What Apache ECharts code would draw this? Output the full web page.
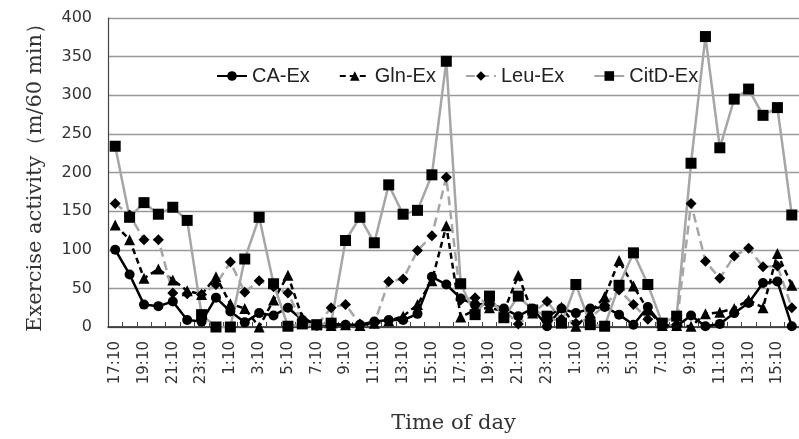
<!DOCTYPE html>
<html><head><meta charset="utf-8">
<script src="https://cdn.jsdelivr.net/npm/echarts@6/dist/echarts.min.js"></script>
<style>html,body{margin:0;padding:0;background:#fff}#c{width:799px;height:439px}</style>
</head><body><div id="c"></div>
<script>
const categories = ['17:10','18:10','19:10','20:10','21:10','22:10','23:10','0:10','1:10','2:10','3:10','4:10',
  '5:10','6:10','7:10','8:10','9:10','10:10','11:10','12:10','13:10','14:10','15:10','16:10',
  '17:10','18:10','19:10','20:10','21:10','22:10','23:10','0:10','1:10','2:10','3:10','4:10',
  '5:10','6:10','7:10','8:10','9:10','10:10','11:10','12:10','13:10','14:10','15:10','16:10'];
const caEx   = [100,68,29,27,33,9,7,38,20,6,18,15,25,9,2,4,3,3,7,9,9,17,65,55,
                37,29,30,24,14,24,1,24,18,24,26,16,3,26,2,1,15,1,4,18,31,57,59,1];
const glnEx  = [132,113,63,75,61,47,42,65,30,24,0,35,67,12,3,2,3,2,5,8,14,29,60,131,
                13,22,25,20,67,18,12,26,1,18,39,86,53,22,2,2,1,17,19,24,35,25,95,54];
const leuEx  = [160,145,113,113,44,43,42,55,84,45,60,52,44,5,2,25,29,4,5,59,62,99,118,194,
                35,38,30,22,4,18,33,10,5,12,28,48,29,10,2,3,160,85,63,92,102,78,79,25];
const citdEx = [234,142,161,146,155,138,16,0,0,88,142,56,1,4,3,5,112,142,109,184,146,151,197,344,
                56,16,40,12,40,22,14,5,55,3,1,54,96,55,5,14,212,376,232,295,308,274,284,145];
const yTicks = {min:0, max:400, step:50};

const chart = echarts.init(document.getElementById('c'), null, {renderer:'canvas'});
const GRAY = '#a6a6a6';
const mk = (name, data, symbol, size, lineColor, dash) => ({
  name, type:'line', data, symbol, symbolSize:size, showSymbol:true, showAllSymbol:true,
  lineStyle:{color:lineColor, width:2.5, type:dash},
  itemStyle:{color:'#000', borderColor:'#000', borderWidth:0},
  emphasis:{disabled:true}, animation:false
});
chart.setOption({
  animation:false,
  backgroundColor:'#fff',
  grid:{left:108, right:-5, top:18, bottom:110, containLabel:false},
  legend:{
    left:211, top:61, itemWidth:30, itemHeight:12, itemGap:29,
    textStyle:{fontFamily:'Liberation Sans', fontSize:20, color:'#222'},
    data:['CA-Ex','Gln-Ex','Leu-Ex','CitD-Ex']
  },
  xAxis:{
    type:'category', data:categories, boundaryGap:true,
    name:'Time of day', nameLocation:'middle', nameGap:86,
    nameTextStyle:{fontFamily:'DejaVu Serif', fontSize:21, color:'#333'},
    axisLine:{lineStyle:{color:'#222', width:1.5}},
    axisTick:{show:true, inside:true, length:5, interval:0, lineStyle:{color:'#444', width:1}},
    axisLabel:{interval:1, rotate:90, margin:14, fontFamily:'DejaVu Sans', fontSize:15, color:'#333'},
    splitLine:{show:false}
  },
  yAxis:{
    type:'value', min:yTicks.min, max:yTicks.max, interval:yTicks.step,
    name:'Exercise activity（m/60 min）', nameLocation:'middle', nameGap:62,
    nameTextStyle:{fontFamily:'DejaVu Serif', fontSize:21, color:'#333'},
    axisLine:{show:true, lineStyle:{color:'#444', width:1.2}},
    axisTick:{show:false},
    axisLabel:{margin:16, fontFamily:'DejaVu Sans', fontSize:16, color:'#333'},
    splitLine:{show:true, lineStyle:{color:'#999', width:1.3}}
  },
  series:[
    mk('CA-Ex', caEx, 'circle', 10, '#000', 'solid'),
    mk('Gln-Ex', glnEx, 'triangle', 11, '#000', [6,4]),
    mk('Leu-Ex', leuEx, 'diamond', 11, GRAY, [9,5]),
    mk('CitD-Ex', citdEx, 'rect', 11, GRAY, 'solid')
  ]
});
</script></body></html>
